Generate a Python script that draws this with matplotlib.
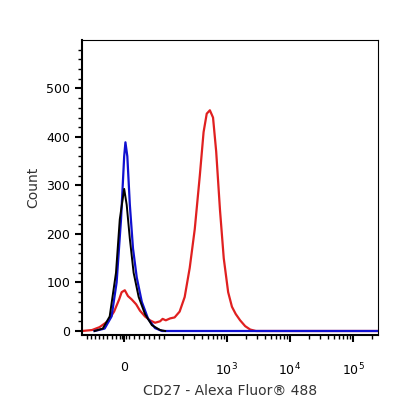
import numpy as np
import matplotlib.pyplot as plt

# x positions are in display decades (10^3 -> 0, 10^4 -> 1, 10^5 -> 2)
blue_x = [-2.10, -1.94, -1.83, -1.75, -1.68, -1.63, -1.61, -1.58, -1.54, -1.49, -1.43, -1.35, -1.25, -1.14, -1.03, 2.40]
blue_y = [0, 5, 30, 100, 230, 360, 389, 360, 260, 170, 110, 60, 25, 6, 0, 0]

black_x = [-2.10, -1.97, -1.86, -1.76, -1.70, -1.63, -1.59, -1.54, -1.48, -1.40, -1.30, -1.19, -1.06, -0.98]
black_y = [0, 5, 30, 120, 230, 293, 260, 190, 120, 70, 35, 12, 2, 0]

red_x = [-2.30, -2.14, -2.02, -1.89, -1.79, -1.71, -1.67, -1.62, -1.57, -1.51, -1.44, -1.38, -1.30, -1.22, -1.14,
         -1.06, -1.02, -0.97, -0.90, -0.83, -0.75, -0.67, -0.59, -0.51, -0.43, -0.37, -0.32, -0.27, -0.22, -0.17,
         -0.11, -0.05, 0.02, 0.08, 0.14, 0.21, 0.29, 0.37, 0.46, 2.40]
red_y = [0, 2, 8, 20, 40, 65, 80, 84, 72, 65, 55, 42, 30, 22, 17,
         20, 25, 22, 26, 28, 40, 70, 130, 210, 320, 410, 448, 455, 440, 370,
         250, 150, 80, 50, 35, 22, 10, 3, 0, 0]

major_pos = [-1.63, 0, 1, 2]
major_lab = ['0', '$10^3$', '$10^4$', '$10^5$']

fig, ax = plt.subplots(figsize=(4.16, 4.16), dpi=100)
fig.subplots_adjust(left=0.197, right=0.909, top=0.904, bottom=0.195)

ax.plot(red_x, red_y, color='#e02020', lw=1.6)
ax.plot(blue_x, blue_y, color='#1010d0', lw=1.6)
ax.plot(black_x, black_y, color='black', lw=1.4)

ax.set_xlim(-2.30, 2.40)
ax.set_ylim(-8, 600)
ax.set_yticks([0, 100, 200, 300, 400, 500])
ax.set_yticks(np.arange(0, 600, 20), minor=True)
ax.set_xticks(major_pos)
ax.set_xticklabels(major_lab)
minor = list(np.linspace(-2.22, -1.70, 9)) + [-1.66, -1.60] + list(np.linspace(-1.55, -1.0, 8))
for d in [0, 1, 2]:
    minor += [d - 1 + np.log10(k) for k in range(2, 10)]
minor += [2 + np.log10(k) for k in range(2, 3)]
ax.set_xticks([m for m in minor if m < 2.4], minor=True)
ax.tick_params(axis='both', which='major', length=5, width=1.5, labelsize=9, direction='out')
ax.tick_params(axis='both', which='minor', length=3, width=1)
ax.tick_params(axis='x', pad=14)
for s in ['left', 'bottom']:
    ax.spines[s].set_linewidth(1.5)
ax.set_xlabel('CD27 - Alexa Fluor® 488', fontsize=10, color='#333333')
ax.set_ylabel('Count', fontsize=10, color='#333333')
fig.savefig('out.png', dpi=100)
